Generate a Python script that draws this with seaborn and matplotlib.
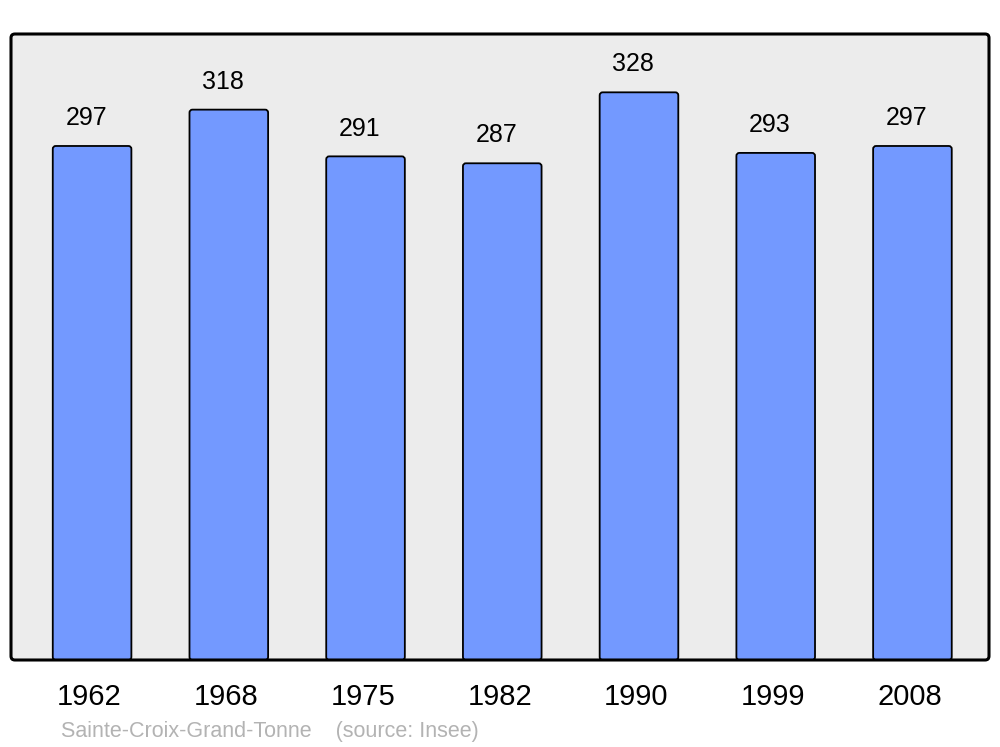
import matplotlib
matplotlib.use("Agg")
import matplotlib.pyplot as plt
import matplotlib.transforms as mtransforms
from matplotlib.patches import FancyBboxPatch
import seaborn as sns
import pandas as pd

years = ["1962", "1968", "1975", "1982", "1990", "1999", "2008"]
population = [297, 318, 291, 287, 328, 293, 297]
caption = "Sainte-Croix-Grand-Tonne    (source: Insee)"

sns.set_theme(style="white")
plt.rcParams["font.family"] = ["Liberation Sans", "DejaVu Sans"]

fig = plt.figure(figsize=(10, 7.47), dpi=100)
ax = fig.add_axes([0.011, 1 - 660 / 747, 0.978, (660 - 34) / 747])

df = pd.DataFrame({"year": years, "pop": population})
sns.barplot(data=df, x="year", y="pop", order=years, color="#7399ff",
            saturation=1, width=0.575, edgecolor="black", linewidth=1.3,
            ax=ax, zorder=2)

ax.set_xlim(-0.593, 6.56)
ax.set_ylim(0, 361.7)
ax.patch.set_visible(False)
for s in ax.spines.values():
    s.set_visible(False)

# round the bar corners slightly
px_x = 978 / (6.56 + 0.593)   # pixels per x unit
px_y = 626 / 361.7            # pixels per y unit
r = 3 / px_x
bar_aspect = (3 / px_y) / r
for p in list(ax.patches):
    x0, y0 = p.get_x(), p.get_y()
    w, h = p.get_width(), p.get_height()
    rb = FancyBboxPatch((x0, y0), w, h,
                        boxstyle=f"round,pad=0,rounding_size={r}",
                        mutation_aspect=bar_aspect,
                        facecolor=p.get_facecolor(), edgecolor="black",
                        linewidth=1.3, zorder=2)
    p.remove()
    ax.add_patch(rb)

aspect = 978 / 626
fill = FancyBboxPatch((0, 0), 1, 1, boxstyle="round,pad=0,rounding_size=0.004",
                      mutation_aspect=aspect, transform=ax.transAxes,
                      facecolor="#ececec", edgecolor="none", zorder=0, clip_on=False)
ax.add_patch(fill)
edge = FancyBboxPatch((0, 0), 1, 1, boxstyle="round,pad=0,rounding_size=0.004",
                      mutation_aspect=aspect, transform=ax.transAxes,
                      facecolor="none", edgecolor="black", linewidth=2.2,
                      zorder=5, clip_on=False)
ax.add_patch(edge)

for i, v in enumerate(population):
    ax.annotate(str(v), xy=(i, v), xytext=(-4.3, 15), textcoords="offset points",
                ha="center", va="baseline", fontsize=18, color="black")

ax.set_xlabel("")
ax.set_ylabel("")
ax.set_yticks([])
ax.tick_params(axis="x", length=0, pad=16.5, labelsize=21, colors="black")
shift = mtransforms.ScaledTranslation(-2.5 / 100, 0, fig.dpi_scale_trans)
for lbl in ax.get_xticklabels():
    lbl.set_transform(lbl.get_transform() + shift)

fig.text(0.061, 1 - 731 / 747, caption, ha="left", va="center",
         fontsize=15.5, color="#b3b3b3")

fig.savefig("out.png", dpi=100)
